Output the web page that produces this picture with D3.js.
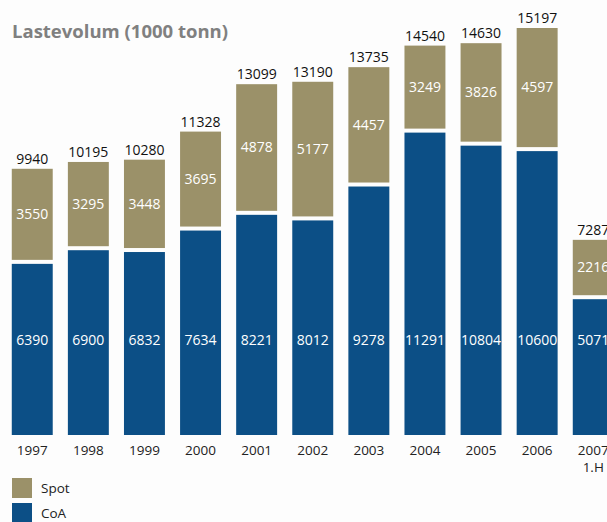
<!doctype html>
<html>
<head>
<meta charset="utf-8">
<script src="https://d3js.org/d3.v7.min.js"></script>
<style>
body { margin: 0; background-color: #fdfdfd; }
svg { display: block; font-family: "Open Sans", sans-serif; }
</style>
</head>
<body>
<svg width="607" height="522"></svg>
<script>

var years = ["1997","1998","1999","2000","2001","2002","2003","2004","2005","2006","2007"];
var yearSub = ["","","","","","","","","","","1.H"];
var spot = [3550, 3295, 3448, 3695, 4878, 5177, 4457, 3249, 3826, 4597, 2216];
var coa = [6390, 6900, 6832, 7634, 8221, 8012, 9278, 11291, 10804, 10600, 5071];
var totals = [9940, 10195, 10280, 11328, 13099, 13190, 13735, 14540, 14630, 15197, 7287];

var spotColor = "#9b9169",
    coaColor = "#0c4f86";

var svg = d3.select("svg"),
    base = 435,
    gap = 4;

var x = d3.scaleBand().domain(years)
    .range([4.2, 4.2 + 11 * 56.1])
    .paddingInner(0.27).paddingOuter(0.135);

var y = d3.scaleLinear().domain([0, 15197]).range([base, 28]);

var data = years.map(function(d, i) {
  return {year: d, sub: yearSub[i], spot: spot[i], coa: coa[i], total: totals[i]};
});

svg.append("text")
    .attr("x", 12).attr("y", 38)
    .attr("font-size", 18.5).attr("font-weight", "bold")
    .attr("fill", "#808080")
    .text("Lastevolum (1000 tonn)");

var g = svg.selectAll(".bar").data(data).enter().append("g").attr("class", "bar");

// CoA
g.append("rect")
    .attr("x", function(d) { return x(d.year); })
    .attr("y", function(d) { return y(d.coa); })
    .attr("width", x.bandwidth())
    .attr("height", function(d) { return base - y(d.coa); })
    .attr("fill", coaColor);

// Spot
g.append("rect")
    .attr("x", function(d) { return x(d.year); })
    .attr("y", function(d) { return y(d.coa + d.spot); })
    .attr("width", x.bandwidth())
    .attr("height", function(d) { return y(d.coa) - y(d.coa + d.spot) - gap; })
    .attr("fill", spotColor);

g.append("text")
    .attr("x", function(d) { return x(d.year) + x.bandwidth() / 2; })
    .attr("y", function(d) { return y(d.total) - 5; })
    .attr("text-anchor", "middle")
    .attr("font-size", 14).attr("fill", "#111")
    .text(function(d) { return d.total; });

g.append("text")
    .attr("x", function(d) { return x(d.year) + x.bandwidth() / 2; })
    .attr("y", function(d) { return (y(d.coa + d.spot) + y(d.coa) - gap) / 2; })
    .attr("dy", "0.35em")
    .attr("text-anchor", "middle")
    .attr("font-size", 14).attr("fill", "#fff")
    .text(function(d) { return d.spot; });

g.append("text")
    .attr("x", function(d) { return x(d.year) + x.bandwidth() / 2; })
    .attr("y", base - 95)
    .attr("dy", "0.35em")
    .attr("text-anchor", "middle")
    .attr("font-size", 14).attr("fill", "#fff")
    .text(function(d) { return d.coa; });

// year axis
var ax = svg.append("g")
    .attr("transform", "translate(0," + base + ")")
    .call(d3.axisBottom(x).tickSize(0).tickPadding(10));
ax.select(".domain").remove();
ax.selectAll("text").attr("font-size", 13.5).attr("fill", "#222")
    .attr("font-family", "Open Sans, sans-serif");

g.append("text")
    .attr("x", function(d) { return x(d.year) + x.bandwidth() / 2; })
    .attr("y", base + 37)
    .attr("text-anchor", "middle")
    .attr("font-size", 13.5).attr("fill", "#222")
    .text(function(d) { return d.sub; });

// legend
var legend = [["Spot", spotColor], ["CoA", coaColor]];
var lg = svg.selectAll(".legend").data(legend).enter().append("g")
    .attr("transform", function(d, i) { return "translate(12," + (478 + i * 25) + ")"; });
lg.append("rect").attr("width", 20).attr("height", 20)
    .attr("fill", function(d) { return d[1]; });
lg.append("text").attr("x", 29).attr("y", 10).attr("dy", "0.35em")
    .attr("font-size", 13.5).attr("fill", "#222")
    .text(function(d) { return d[0]; });

</script>
</body>
</html>
